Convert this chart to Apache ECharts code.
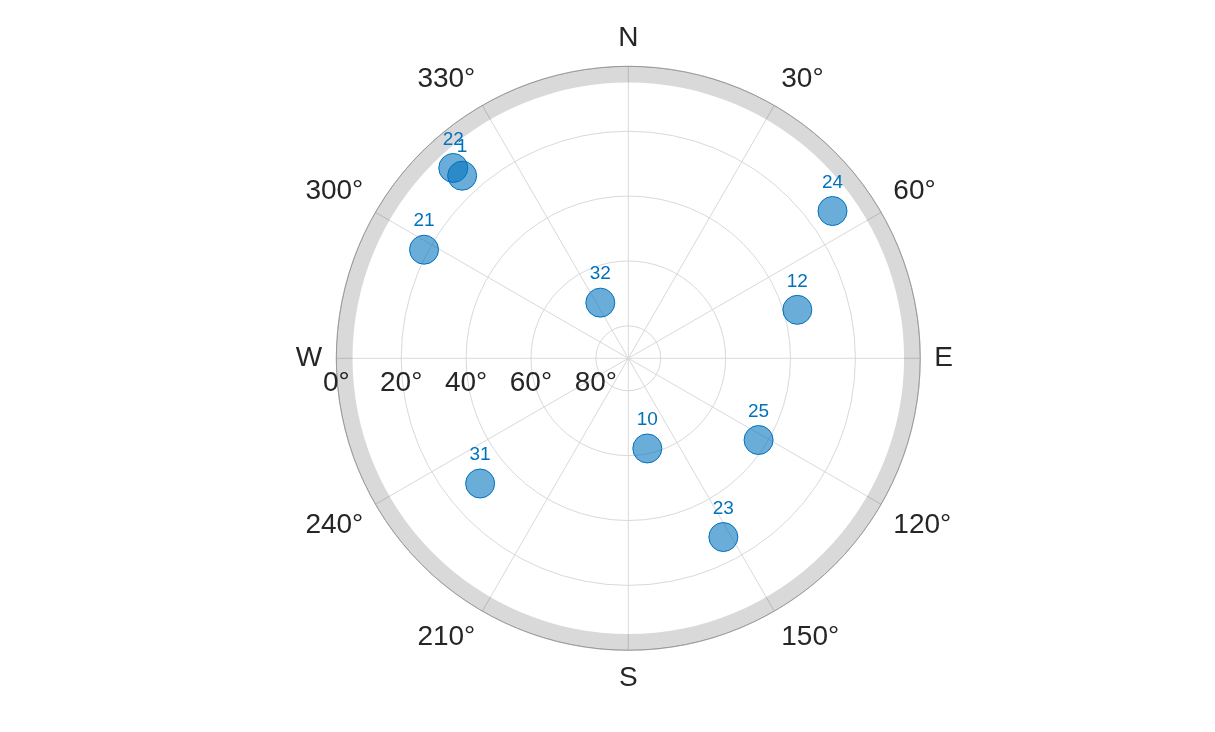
<!DOCTYPE html>
<html><head><meta charset="utf-8">
<script src="https://cdn.jsdelivr.net/npm/echarts@6/dist/echarts.min.js"></script>
<style>html,body{margin:0;padding:0;background:#fff}#c{width:1215px;height:732px}</style>
</head><body><div id="c"></div>
<script>
// Satellite sky positions (azimuth deg clockwise from North, elevation deg)
const satIds    = ['22', '1', '21', '32', '24', '12', '25', '10', '23', '31'];
const azimuth   = [317.4, 317.7, 298.0, 333.3, 54.2, 74.0, 122.1, 168.1, 152.0, 229.8];
const elevation = [10.3, 13.9, 18.7, 70.8, 12.4, 35.8, 42.6, 61.6, 27.6, 30.2];
const elevationTicks = [0, 20, 40, 60, 80];
const compassNames = {0: 'N', 90: 'E', 180: 'S', 270: 'W'};
const maskElevation = 5;

const FONT = '"Liberation Sans", Arial, Helvetica, sans-serif';
// angle axis starts at West (left) and runs clockwise: value = azimuth + 90
const toAngle = az => (az + 90) % 360;
const toCompass = v => ((v + 270) % 360 + 360) % 360;

const chart = echarts.init(document.getElementById('c'), null, {renderer: 'canvas'});
chart.setOption({
  animation: false,
  backgroundColor: '#ffffff',
  polar: {center: [628.3, 358.3], radius: 292},
  angleAxis: {
    type: 'value', min: 0, max: 360, interval: 30,
    startAngle: 180, clockwise: true,
    axisLine: {show: true, lineStyle: {color: '#a8a8a8', width: 1}},
    axisTick: {show: false},
    axisLabel: {
      margin: 14, fontSize: 28, color: '#262626', fontFamily: FONT,
      formatter: v => {
        const c = toCompass(v);
        return compassNames[c] !== undefined ? compassNames[c] : c + '°';
      }
    },
    splitLine: {show: true, lineStyle: {color: '#d9d9d9', width: 1}}
  },
  radiusAxis: {
    type: 'value', min: 0, max: 90, interval: 20, inverse: true,
    axisLine: {show: false},
    axisTick: {show: false},
    axisLabel: {
      margin: 11, fontSize: 28, color: '#262626', fontFamily: FONT,
      formatter: v => elevationTicks.indexOf(v) >= 0 ? v + '°' : ''
    },
    splitLine: {show: true, lineStyle: {color: '#d9d9d9', width: 1}}
  },
  series: [
    {
      type: 'custom', coordinateSystem: 'polar', silent: true, z: 1,
      data: [[maskElevation, 0]],
      renderItem: function (params, api) {
        const cs = params.coordSys;
        const p = api.coord([api.value(0), 0]);
        const rin = Math.hypot(p[0] - cs.cx, p[1] - cs.cy);
        return {
          type: 'sector',
          shape: {cx: cs.cx, cy: cs.cy, r0: rin, r: cs.r, startAngle: 0, endAngle: Math.PI * 2},
          style: {fill: 'rgba(0,0,0,0.15)'}
        };
      }
    },
    {
      type: 'scatter', coordinateSystem: 'polar', z: 3,
      symbol: 'circle', symbolSize: 29,
      itemStyle: {color: 'rgba(0,114,189,0.58)', borderColor: '#0072BD', borderWidth: 1, opacity: 1},
      label: {
        show: true, position: 'top', distance: 4,
        formatter: p => p.name,
        color: '#0072BD', fontSize: 19, fontFamily: FONT
      },
      emphasis: {disabled: true},
      data: satIds.map((id, i) => ({name: id, value: [elevation[i], toAngle(azimuth[i])]}))
    }
  ]
});
</script>
</body></html>
